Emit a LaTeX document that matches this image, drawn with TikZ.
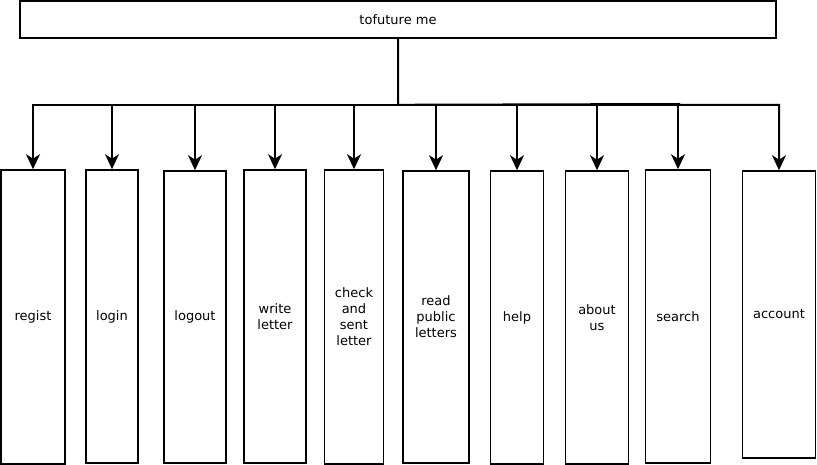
\documentclass[tikz,border=0pt]{standalone}
\usepackage{fontspec}
\setmainfont{DejaVu Sans}
\usetikzlibrary{arrows.meta}
\begin{document}
\begin{tikzpicture}[x=1pt,y=-1pt,
  box/.style={draw=black,line width=1.6pt,inner sep=0pt,align=center,
    font=\fontsize{13}{16}\selectfont},
  conn/.style={draw=black,line width=2pt,-{Stealth[length=15pt,width=14pt,inset=4.5pt]}}]
\useasboundingbox (0,0) rectangle (817,465);
\node[box,minimum width=756pt,minimum height=37pt] (top) at (398,19.5) {tofuture me};
\node[box,minimum width=64pt,minimum height=294pt] (b1) at (33,317) {regist};
\node[box,minimum width=52pt,minimum height=293pt] (b2) at (112,316.5) {login};
\node[box,minimum width=62pt,minimum height=292pt] (b3) at (195,317) {logout};
\node[box,minimum width=62pt,minimum height=293pt] (b4) at (275,316.5) {write\\letter};
\node[box,minimum width=59pt,minimum height=294pt] (b5) at (354,317) {check\\and\\sent\\letter};
\node[box,minimum width=66pt,minimum height=292pt] (b6) at (436,317) {read\\public\\letters};
\node[box,minimum width=53pt,minimum height=293pt] (b7) at (517,317.5) {help};
\node[box,minimum width=63pt,minimum height=293pt] (b8) at (597,317.5) {about\\us};
\node[box,minimum width=65pt,minimum height=293pt] (b9) at (678,316.5) {search};
\node[box,minimum width=73pt,minimum height=287pt] (b10) at (779,314.5) {account};
\foreach \b in {b1,b2,b3,b4,b5,b6,b7,b8,b9}
  \draw[conn] (top.south) -- ++(0,66) -| (\b.north);
\draw[conn] (top.south) -- ++(0,66) -- (679,104) -- (679,105) -| (b10.north);
\end{tikzpicture}
\end{document}
